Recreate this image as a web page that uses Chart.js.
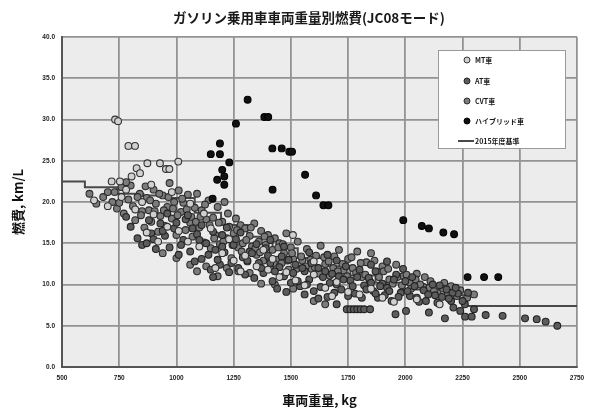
<!DOCTYPE html>
<html>
<head>
<meta charset="utf-8">
<script src="https://cdn.jsdelivr.net/npm/chart.js@4/dist/chart.umd.min.js"></script>
<style>
  html, body { margin: 0; padding: 0; background: #ffffff; }
  #wrap { width: 598px; height: 414px; }
</style>
</head>
<body>
<div id="wrap"><canvas id="c" width="598" height="414"></canvas></div>
<script>
// Titles and labels
const chartTitle = 'ガソリン乗用車車両重量別燃費(JC08モード)';
const xTitle = '車両重量, kg';
const yTitle = '燃費, km/L';
const seriesNames = ['MT車', 'AT車', 'CVT車', 'ハイブリッド車', '2015年度基準'];

// Axis ranges / tick steps
const xTicks = [500, 750, 1000, 1250, 1500, 1750, 2000, 2250, 2500, 2750];
const yTicks = [0, 5, 10, 15, 20, 25, 30, 35, 40];

// Vehicle weight (kg) and fuel economy (km/L) per transmission type
const mtPoints = [
  [732,30.0],[745,29.8],[790,26.8],[819,26.8],[873,24.7],[928,24.7],[954,24.0],[969,24.0],
  [1008,24.9],[826,24.1],[841,23.5],[804,23.1],[717,22.5],[753,22.5],[640,20.2],[700,19.5],
  [760,20.6],[780,21.5],[820,19.1],[850,20.0],[870,16.3],[890,22.1],[900,18.5],[920,15.2],
  [960,17.0],[980,21.2],[1010,16.5],[1050,15.2],[1060,19.8],[1100,14.6],[1120,18.6],[1150,16.8],
  [1170,12.0],[1200,13.8],[1230,15.5],[1250,12.9],[1280,11.6],[1300,13.5],[1350,12.2],[1380,14.2],
  [1400,11.8],[1420,13.1],[1450,10.9],[1480,11.5],[1509,16.0],[1520,10.5],[1560,9.9],[1600,11.2],
  [1600,12.8],[1650,9.6],[1680,8.6],[1700,10.3],[1750,9.1],[1800,8.8],[1850,9.5],[1900,8.4],
  [1950,7.9],[2050,8.2],[2150,7.6]
];

const atPoints = [
  [780,18.2],[800,17.0],[830,15.6],[850,14.8],[870,15.0],[890,16.2],[910,14.3],[930,17.4],
  [950,15.9],[970,14.5],[990,16.8],[1010,13.6],[1030,15.4],[1040,17.9],[1060,14.0],[1080,12.8],
  [1090,16.1],[1110,13.1],[1130,15.0],[1150,11.8],[1160,10.9],[1170,14.2],[1190,12.4],[1210,13.9],
  [1230,11.5],[1250,14.8],[1270,12.0],[1290,13.3],[1300,11.2],[1320,14.0],[1340,10.8],[1360,12.6],
  [1380,11.4],[1400,13.5],[1420,10.4],[1440,9.5],[1450,12.1],[1470,11.0],[1490,13.0],[1500,10.2],
  [1520,12.4],[1540,9.8],[1560,11.6],[1580,10.6],[1600,9.2],[1620,12.0],[1640,10.9],[1660,8.5],
  [1680,11.3],[1700,10.0],[1720,9.4],[1740,12.2],[1760,10.5],[1780,8.9],[1800,11.8],[1820,9.9],
  [1840,10.8],[1860,9.2],[1880,8.4],[1900,10.1],[1920,9.6],[1940,8.0],[1960,11.2],[1980,9.0],
  [2000,10.4],[2020,8.6],[2040,9.8],[2060,7.9],[2080,9.3],[2100,8.8],[2120,10.0],[2140,7.8],
  [2160,8.5],[2180,9.4],[2200,8.0],[2210,7.2],[2230,8.9],[2240,6.8],[2260,7.6],[2173,5.9],
  [2261,6.1],[2290,6.1],[2351,6.3],[2425,6.2],[2523,5.9],[2574,5.8],[2613,5.5],[2664,5.0],
  [2103,6.6],[2003,6.8],[1957,6.4],[1744,7.0],[1760,7.0],[1775,7.0],[1790,7.0],[1805,7.0],
  [1820,7.0],[1846,7.0],[1700,7.6],[1620,8.3],[1560,8.8],[1480,9.1],[2300,7.0],[2206,9.0],
  [2274,9.0],[1850,12.4],[1870,11.6],[1920,12.8],[1990,11.9],[2030,10.9],[2150,9.9],[2220,9.6],
  [1660,13.6],[1700,12.9],[1580,13.9],[1470,14.6],[1410,15.4],[1350,14.9],[1280,16.3],[1200,16.0],
  [1110,17.2],[1050,18.4],
  [880,17.8],[900,15.5],[940,16.5],[960,18.6],[1000,17.5],[1020,14.8],[1070,16.8],[1100,15.4],
  [1140,13.6],[1160,16.4],[1180,13.0],[1200,14.6],[1220,16.9],[1240,12.6],[1260,15.5],[1310,12.9],
  [1330,13.8],[1370,12.0],[1390,14.4],[1410,12.6],[1430,11.6],[1460,13.4],[1510,11.4],[1530,10.4],
  [1550,12.0],[1570,10.0],[1590,12.6],[1630,9.7],[1650,11.6],[1670,10.2],[1690,9.0],[1710,11.0],
  [1730,10.6],[1750,8.6],[1770,9.8],[1790,10.9],[1810,8.4],[1830,9.4],[1850,10.2],[1870,8.9],
  [1890,9.8],[1910,8.7],[1930,9.2],[1950,10.6],[1970,8.5],[2010,9.2],[2050,8.4],[2090,8.0],
  [2130,8.7],[2190,8.3],[2250,8.0]
];

const cvtPoints = [
  [620,21.0],[650,19.8],[680,20.6],[700,21.2],[720,20.0],[740,19.2],[760,21.8],[770,18.6],
  [790,20.3],[800,22.0],[810,19.5],[820,17.8],[840,21.0],[850,18.9],[860,16.9],[870,20.5],
  [880,19.0],[890,17.6],[900,21.5],[910,19.8],[920,16.4],[930,18.3],[940,20.8],[950,17.1],
  [960,19.4],[970,22.3],[980,18.0],[990,20.0],[1000,16.0],[1010,21.4],[1020,18.8],[1030,19.9],
  [1040,16.6],[1050,20.9],[1060,17.5],[1070,15.8],[1080,19.3],[1090,21.0],[1100,16.9],[1110,19.0],
  [1120,15.1],[1130,17.9],[1140,20.2],[1150,14.4],[1160,18.1],[1170,16.0],[1180,19.4],[1190,14.9],
  [1200,17.6],[1210,20.0],[1220,15.6],[1230,17.0],[1240,13.2],[1250,16.2],[1260,18.0],[1270,14.5],
  [1280,17.2],[1290,15.0],[1300,16.8],[1310,12.8],[1320,15.9],[1330,14.6],[1340,17.4],[1350,13.6],
  [1360,15.2],[1370,16.5],[1380,12.9],[1390,14.8],[1400,16.0],[1410,11.9],[1420,14.2],[1430,15.6],
  [1440,13.0],[1450,15.0],[1460,12.6],[1470,13.8],[1480,16.2],[1490,11.8],[1500,14.5],[1510,13.1],
  [1530,15.2],[1550,12.9],[1570,14.3],[1590,11.9],[1610,13.5],[1630,14.7],[1650,12.5],[1670,11.1],
  [1690,13.4],[1710,14.2],[1730,11.7],[1750,13.1],[1770,12.0],[1790,14.0],[1810,10.9],[1830,12.7],
  [1850,13.8],[1880,11.5],[1900,12.2],[1930,10.6],[1960,12.4],[1990,11.0],[2020,10.2],[2050,11.3],
  [2080,9.7],[2110,10.4],[2140,9.0],[2170,10.2],[2200,9.8],[2240,9.3],[2270,8.4],[2300,8.8],
  [940,13.8],[1000,13.2],[1060,12.4],[1090,11.6],[1130,12.2],[1180,11.0],[1220,12.0],[1270,11.6],
  [1320,11.4],[1370,10.1],[1430,10.0],[1510,9.5],[1600,8.0],[1650,7.6],
  [730,21.2],[750,19.9],[780,22.4],[830,20.6],[845,18.4],[865,21.9],[885,20.2],[905,18.9],
  [925,21.0],[945,19.0],[965,20.6],[985,19.2],[1005,18.4],[1025,20.4],[1045,19.1],[1065,18.2],
  [1085,17.6],[1105,18.2],[1125,19.7],[1145,17.2],[1165,15.6],[1185,17.5],[1205,15.2],[1225,18.6],
  [1245,14.8],[1265,16.6],[1285,14.0],[1305,15.4],[1325,16.9],[1345,14.4],[1365,13.9],[1385,15.8],
  [1405,13.2],[1425,12.6],[1445,14.5],[1465,14.9],[1485,12.9],[1505,13.8],[1525,11.9],[1545,13.4],
  [1565,12.2],[1585,13.0],[1605,12.1],[1625,11.3],[1645,13.3],[1665,12.8],[1685,12.0],[1705,11.6],
  [1725,12.5],[1745,11.0],[1765,13.3],[1785,11.4],[1805,12.6],[1825,11.2],[1845,10.4],[1865,12.9],
  [1885,10.9],[1905,11.6],[1925,11.9],[1945,10.1],[1965,10.9],[1985,9.9],[2005,11.2],[2025,9.5],
  [2045,10.6],[2065,10.0],[2085,10.9],[2105,9.6],[2125,9.2],[2165,9.5],[2185,8.9],[2225,8.6]
];

const hybridPoints = [
  [1311,32.4],[1260,29.5],[1384,30.3],[1401,30.3],[1190,27.1],[1150,25.8],[1190,25.8],[1231,24.8],
  [1419,26.5],[1460,26.5],[1493,26.1],[1505,26.1],[1200,23.9],[1209,23.1],[1178,22.7],[1209,22.1],
  [1420,21.5],[1562,23.3],[1610,20.8],[1158,20.4],[1642,19.6],[1664,19.6],[1991,17.8],[2072,17.1],
  [2103,16.8],[2166,16.3],[2213,16.1],[2272,10.9],[2344,10.9],[2406,10.9]
];

// 2015 fuel economy standard: lower weight bound of each class and its target (km/L)
const standardWeights = [500, 600, 740, 855, 970, 1080, 1195, 1310, 1420, 1530, 1650, 1760, 1870, 1990, 2100, 2270, 2750];
const standardValues  = [22.5, 21.8, 21.0, 20.8, 20.5, 18.7, 17.2, 15.8, 14.4, 13.2, 12.2, 11.1, 10.2, 9.4, 8.7, 7.4, 7.4];

const toXY = arr => arr.map(p => ({ x: p[0], y: p[1] }));
const tickFont = { family: 'Liberation Sans, Arial, sans-serif', size: 6.5, weight: 'bold' };
const cjkBold = '"Noto Sans CJK JP", "Noto Sans CJK SC", sans-serif';

// Light gray plot background
const plotBackground = {
  id: 'plotBackground',
  beforeDraw(chart) {
    const { ctx, chartArea: a } = chart;
    ctx.save();
    ctx.fillStyle = '#ececec';
    ctx.fillRect(a.left, a.top, a.right - a.left, a.bottom - a.top);
    ctx.restore();
  }
};

// Main heading above the plot
const heading = {
  id: 'heading',
  afterDraw(chart) {
    const ctx = chart.ctx;
    ctx.save();
    ctx.font = 'bold 13.5px ' + cjkBold;
    ctx.fillStyle = '#1a1a1a';
    ctx.textAlign = 'center';
    ctx.textBaseline = 'middle';
    ctx.fillText(chartTitle, 309, 18);
    ctx.restore();
  }
};

// Boxed legend inside the upper-right of the plot
const boxLegend = {
  id: 'boxLegend',
  afterDatasetsDraw(chart) {
    const ctx = chart.ctx;
    const bx = 438, by = 50, bw = 127, bh = 98;
    ctx.save();
    ctx.fillStyle = '#ffffff';
    ctx.fillRect(bx, by, bw, bh);
    ctx.strokeStyle = '#9a9a9a';
    ctx.lineWidth = 1;
    ctx.strokeRect(bx + 0.5, by + 0.5, bw, bh);
    const rows = [60, 81, 101, 121, 141];
    ctx.font = 'bold 7px ' + cjkBold;
    ctx.textBaseline = 'middle';
    chart.data.datasets.forEach((ds, i) => {
      const y = rows[i];
      if (ds.type === 'line') {
        ctx.strokeStyle = ds.borderColor;
        ctx.lineWidth = 2;
        ctx.beginPath();
        ctx.moveTo(458, y);
        ctx.lineTo(474, y);
        ctx.stroke();
      } else {
        ctx.beginPath();
        ctx.arc(467, y, 3, 0, Math.PI * 2);
        ctx.fillStyle = ds.backgroundColor;
        ctx.fill();
        ctx.strokeStyle = ds.borderColor;
        ctx.lineWidth = 1;
        ctx.stroke();
      }
      ctx.fillStyle = '#1a1a1a';
      ctx.fillText(ds.label, 475, y);
    });
    ctx.restore();
  }
};

const scatterStyle = (fill, border) => ({
  type: 'scatter',
  backgroundColor: fill,
  borderColor: border,
  borderWidth: 1.1,
  pointRadius: 3.4,
  pointHoverRadius: 3.4
});

new Chart(document.getElementById('c'), {
  data: {
    datasets: [
      Object.assign({ label: seriesNames[0], data: toXY(mtPoints), order: 2 }, scatterStyle('#d0d0d0', '#333333')),
      Object.assign({ label: seriesNames[1], data: toXY(atPoints), order: 3 }, scatterStyle('#5c5c5c', '#222222')),
      Object.assign({ label: seriesNames[2], data: toXY(cvtPoints), order: 4 }, scatterStyle('#7c7c7c', '#2c2c2c')),
      Object.assign({ label: seriesNames[3], data: toXY(hybridPoints), order: 1 }, scatterStyle('#111111', '#000000')),
      {
        type: 'line',
        label: seriesNames[4],
        data: standardWeights.map((w, i) => ({ x: w, y: standardValues[i] })),
        stepped: 'before',
        borderColor: '#4a4a4a',
        borderWidth: 2,
        pointRadius: 0,
        fill: false,
        order: 10
      }
    ]
  },
  options: {
    responsive: false,
    animation: false,
    devicePixelRatio: 1,
    layout: { padding: { top: 37, right: 21, left: 0, bottom: 0 } },
    plugins: {
      legend: { display: false },
      title: { display: false },
      tooltip: { enabled: false }
    },
    scales: {
      x: {
        type: 'linear',
        min: xTicks[0],
        max: xTicks[xTicks.length - 1],
        afterBuildTicks: s => { s.ticks = xTicks.map(v => ({ value: v })); },
        afterFit: s => { s.height = 47; },
        ticks: { font: tickFont, color: '#222', padding: 7, maxRotation: 0, callback: v => String(v) },
        grid: { color: '#939393', lineWidth: 1.8, drawTicks: false },
        border: { color: '#555555', width: 2 },
        title: { display: true, text: xTitle, color: '#111', font: { family: cjkBold, size: 13, weight: 'bold' }, padding: { top: 0, bottom: 6 } }
      },
      y: {
        type: 'linear',
        min: yTicks[0],
        max: yTicks[yTicks.length - 1],
        afterBuildTicks: s => { s.ticks = yTicks.map(v => ({ value: v })); },
        afterFit: s => { s.width = 62; },
        ticks: { font: tickFont, color: '#222', padding: 7, callback: v => Number(v).toFixed(1) },
        grid: { color: '#939393', lineWidth: 1.8, drawTicks: false },
        border: { color: '#555555', width: 2 },
        title: { display: true, text: yTitle, color: '#111', font: { family: cjkBold, size: 13, weight: 'bold' }, padding: { top: 10, bottom: 0 } }
      }
    }
  },
  plugins: [plotBackground, heading, boxLegend]
});
</script>
</body>
</html>
